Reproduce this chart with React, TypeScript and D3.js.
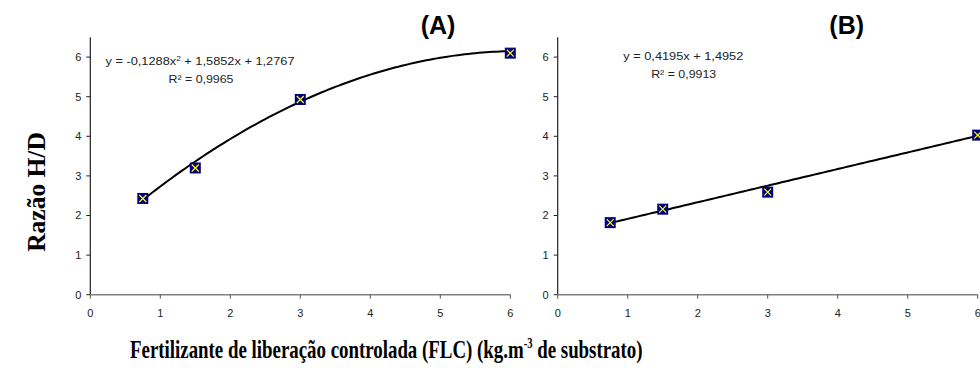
import React from "react";
import * as d3 from "d3";

// Fertiliser doses (kg.m-3) and H/D ratio for each panel
const doses = [0.75, 1.5, 3, 6];
const ratioA = [2.43, 3.2, 4.93, 6.1];
const ratioB = [1.82, 2.16, 2.59, 4.03];

// Trendline coefficients, highest power first
const coefA = [-0.1288, 1.5852, 1.2767];
const coefB = [0.4195, 1.4952];

const xTicks = [0, 1, 2, 3, 4, 5, 6];
const yTicks = [0, 1, 2, 3, 4, 5, 6];

const W = 980;
const H = 368;
const FONT = "'Liberation Sans', Arial, sans-serif";
const SERIF = "'Liberation Serif', 'Times New Roman', serif";

const polyval = (c: number[], x: number) => c.reduce((acc, k) => acc * x + k, 0);

type PanelProps = {
  left: number;
  values: number[];
  coef: number[];
  title: string;
  titleX: number;
  eq: React.ReactNode;
  eqX: number;
  eqY: number;
  eqLen: number;
  r2: string;
  r2X: number;
  r2Y: number;
};

function Panel({ left, values, coef, title, titleX, eq, eqX, eqY, eqLen, r2, r2X, r2Y }: PanelProps) {
  const x = d3.scaleLinear().domain([0, 6]).range([left, left + 420]);
  const y = d3.scaleLinear().domain([0, 6.5]).range([294.7, 37.3]);
  const curveX = d3.range(0.75, 6.0001, 0.05);
  const line = d3
    .line<number>()
    .x((d) => x(d))
    .y((d) => y(polyval(coef, d)));
  const m = 5.5;
  return (
    <g>
      <text x={titleX} y={34} textAnchor="middle" fontFamily={FONT} fontWeight="bold" fontSize={25}>
        {title}
      </text>
      {/* y axis */}
      <line x1={x(0)} x2={x(0)} y1={y(0)} y2={y(6.5)} stroke="#222" strokeWidth={1.2} />
      {yTicks.map((t) => (
        <g key={"y" + t}>
          <line x1={x(0) - 4} x2={x(0)} y1={y(t)} y2={y(t)} stroke="#222" strokeWidth={1} />
          <text x={x(0) - 9} y={y(t) + 3.8} textAnchor="end" fontFamily={FONT} fontSize={11} fill="#222">
            {t}
          </text>
        </g>
      ))}
      {/* x axis */}
      <line x1={x(0)} x2={x(6)} y1={y(0)} y2={y(0)} stroke="#808080" strokeWidth={1.5} />
      {xTicks.map((t) => (
        <g key={"x" + t}>
          <line x1={x(t)} x2={x(t)} y1={y(0)} y2={y(0) + 4} stroke="#555" strokeWidth={1} />
          <text x={x(t)} y={317} textAnchor="middle" fontFamily={FONT} fontSize={11} fill="#222">
            {t}
          </text>
        </g>
      ))}
      <path d={line(curveX) || ""} fill="none" stroke="#000" strokeWidth={2} />
      {doses.map((d, i) => (
        <g key={"p" + i} transform={`translate(${x(d)},${y(values[i])})`}>
          <rect x={-m} y={-m} width={2 * m} height={2 * m} fill="#000080" />
          <path d="M-3.5,-3.5L3.5,3.5M-3.5,3.5L3.5,-3.5" stroke="#ffff00" strokeWidth={1.2} />
        </g>
      ))}
      <text
        x={eqX}
        y={eqY}
        fontFamily={FONT}
        fontSize={11.5}
        fill="#222"
        textLength={eqLen}
        lengthAdjust="spacingAndGlyphs"
      >
        {eq}
      </text>
      <text
        x={r2X}
        y={r2Y}
        textAnchor="middle"
        fontFamily={FONT}
        fontSize={11.5}
        fill="#222"
        textLength={65}
        lengthAdjust="spacingAndGlyphs"
      >
        {r2}
      </text>
    </g>
  );
}

export default function App() {
  const sup = (s: string) => (
    <tspan fontSize={7.5} dy={-4}>
      {s}
    </tspan>
  );
  return (
    <svg width={W} height={H} style={{ position: "absolute", left: 0, top: 0, background: "#fff" }}>
      <Panel
        left={90.3}
        values={ratioA}
        coef={coefA}
        title="(A)"
        titleX={438}
        eq={
          <>
            y = -0,1288x{sup("2")}
            <tspan dy={4}> + 1,5852x + 1,2767</tspan>
          </>
        }
        eqX={105.5}
        eqY={65}
        eqLen={189}
        r2="R² = 0,9965"
        r2X={201}
        r2Y={82.5}
      />
      <Panel
        left={557.7}
        values={ratioB}
        coef={coefB}
        title="(B)"
        titleX={846.7}
        eq={<>y = 0,4195x + 1,4952</>}
        eqX={623.3}
        eqY={60}
        eqLen={120}
        r2="R² = 0,9913"
        r2X={683.7}
        r2Y={77.5}
      />
      <text
        transform="translate(45,192) rotate(-90)"
        textAnchor="middle"
        fontFamily={SERIF}
        fontWeight="bold"
        fontSize={25.5}
      >
        Razão H/D
      </text>
      <g transform="translate(130,358) scale(0.755,1)">
        <text x={0} y={0} fontFamily={SERIF} fontWeight="bold" fontSize={25}>
          Fertilizante de liberação controlada (FLC) (kg.m
          <tspan fontSize={14} dy={-10}>-3</tspan>
          <tspan dy={10}> de substrato)</tspan>
        </text>
      </g>
    </svg>
  );
}
